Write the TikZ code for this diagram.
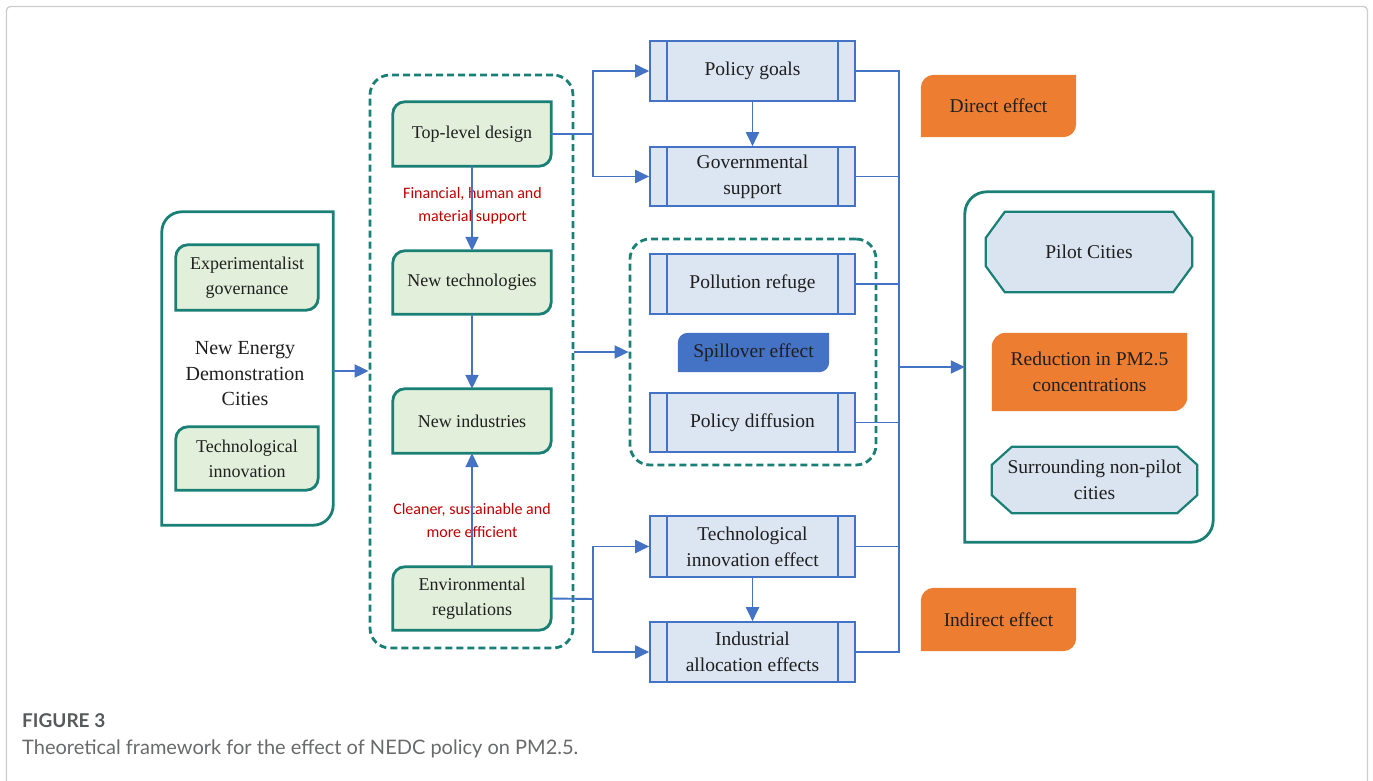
\documentclass[tikz,border=0pt]{standalone}
\usepackage{fontspec}
\setmainfont{Liberation Serif}
\newfontfamily\redfont{Carlito}
\newfontfamily\capfont{Lato}
\usetikzlibrary{arrows.meta,backgrounds}

\definecolor{teal1}{RGB}{26,128,118}
\definecolor{greenfill}{RGB}{226,239,218}
\definecolor{blueline}{RGB}{68,114,196}
\definecolor{bluefill}{RGB}{220,230,242}
\definecolor{octfill}{RGB}{218,228,240}
\definecolor{orange1}{RGB}{237,125,49}
\definecolor{redtext}{RGB}{192,0,0}
\definecolor{capgray}{RGB}{88,89,91}
\definecolor{framegray}{RGB}{205,205,205}

\tikzset{
  base/.style={inner sep=0pt, align=center, font=\fontsize{19.5}{26}\selectfont, text=black!88},
  greenbox/.style={base, font=\fontsize{18}{25}\selectfont, minimum width=158pt},
  procbox/.style={base, draw=blueline, fill=bluefill, line width=1.6pt, minimum width=205pt},
  conn/.style={draw=blueline, line width=1.9pt},
  arr/.style={conn, -{Triangle[length=14pt,width=13pt]}},
  dashbox/.style={draw=teal1, line width=2.8pt, dash pattern=on 7pt off 4pt, rounded corners=20pt, inner sep=0pt},
  redlabel/.style={font=\redfont\fontsize{16}{23}\selectfont, text=redtext, align=center},
  tealshape/.style={draw=teal1, line width=2.8pt},
}

% diagonal rounded shape (top-left and bottom-right corners rounded)
\newcommand\diagshape[3]{%
  \begin{scope}[on background layer]
  \path[#3] (#1.south west) -- ([yshift=-#2]#1.north west)
     arc[start angle=180,end angle=90,radius=#2] -- (#1.north east)
     -- ([yshift=#2]#1.south east)
     arc[start angle=0,end angle=-90,radius=#2] -- cycle;
  \end{scope}}
% process box inner lines
\newcommand\proclines[1]{%
  \draw[draw=blueline,line width=1.6pt] ([xshift=18pt]#1.north west) -- ([xshift=18pt]#1.south west)
    ([xshift=-18pt]#1.north east) -- ([xshift=-18pt]#1.south east);}
% octagon
\newcommand\octo[4]{%
  \begin{scope}[on background layer]
  \path[#4] ([xshift=#2]#1.north west) -- ([xshift=-#2]#1.north east) -- ([yshift=-#3]#1.north east)
   -- ([yshift=#3]#1.south east) -- ([xshift=-#2]#1.south east) -- ([xshift=#2]#1.south west)
   -- ([yshift=#3]#1.south west) -- ([yshift=-#3]#1.north west) -- cycle;
  \end{scope}}

\begin{document}
\begin{tikzpicture}[x=1pt,y=1pt]
\clip (0,0) rectangle (1373,-781);
\draw[framegray, line width=1.3pt, rounded corners=4pt] (6.5,-6.5) rectangle (1367.5,-800);

% ---------- left box ----------
\node[base, minimum width=171pt, minimum height=313pt] (L) at (247.5,-368.5) {};
\diagshape{L}{20pt}{tealshape}
\node[greenbox, minimum width=142pt, minimum height=65pt] (eg) at (247,-277.5) {Experimentalist\\governance};
\diagshape{eg}{12pt}{tealshape, fill=greenfill}
\node[greenbox, minimum width=142pt, minimum height=63pt] (ti) at (247,-458.5) {Technological\\innovation};
\diagshape{ti}{12pt}{tealshape, fill=greenfill}
\node[base, font=\fontsize{20}{25.5}\selectfont] (nedc) at (245,-374) {New Energy\\Demonstration\\Cities};

% ---------- dashed box 1 ----------
\node[dashbox, minimum width=203pt, minimum height=573pt] (D1) at (471.5,-361.5) {};
\node[greenbox, minimum height=64pt] (tld) at (472,-134) {Top-level design};
\diagshape{tld}{12pt}{tealshape, fill=greenfill}
\node[greenbox, minimum height=63pt] (nt) at (472,-282.5) {New technologies};
\diagshape{nt}{12pt}{tealshape, fill=greenfill}
\node[greenbox, minimum height=64pt] (ni) at (472,-421) {New industries};
\diagshape{ni}{12pt}{tealshape, fill=greenfill}
\node[greenbox, minimum height=63pt] (er) at (472,-598.5) {Environmental\\regulations};
\diagshape{er}{12pt}{tealshape, fill=greenfill}

\node[redlabel] (lab1) at (472.5,-205.5) {Financial, human and\\material support};
\node[redlabel] (lab2) at (472,-520) {Cleaner, sustainable and\\more efficient};

\draw[arr] (tld) -- (nt);
\draw[arr] (nt) -- (ni);
\draw[arr] (er) -- (ni);

% ---------- process boxes ----------
\node[procbox, minimum height=60pt] (pg) at (752.5,-71) {Policy goals};
\proclines{pg}
\node[procbox, minimum height=59pt] (gs) at (752.5,-176.5) {Governmental\\support};
\proclines{gs}
\node[procbox, minimum height=61pt] (tie) at (752.5,-546.5) {Technological\\innovation effect};
\proclines{tie}
\node[procbox, minimum height=60pt] (iae) at (752.5,-652) {Industrial\\allocation effects};
\proclines{iae}

% ---------- dashed box 2 ----------
\node[dashbox, minimum width=246pt, minimum height=226pt] (D2) at (753,-352) {};
\node[procbox, minimum height=60pt] (pr) at (752.5,-284) {Pollution refuge};
\proclines{pr}
\node[procbox, minimum height=59pt] (pd) at (752.5,-422.5) {Policy diffusion};
\proclines{pd}
\node[base, minimum width=151pt, minimum height=39pt] (se) at (753.5,-352.5) {Spillover effect};
\diagshape{se}{10pt}{fill=blueline}

% ---------- orange labels ----------
\node[base, minimum width=155pt, minimum height=62pt] (de) at (998.5,-106) {Direct effect};
\diagshape{de}{13pt}{fill=orange1}
\node[base, minimum width=155pt, minimum height=63pt] (ie) at (998.5,-619.5) {Indirect effect};
\diagshape{ie}{13pt}{fill=orange1}

% ---------- right box ----------
\node[base, minimum width=248pt, minimum height=350pt] (R) at (1089,-367) {};
\diagshape{R}{22pt}{tealshape}
\node[base, minimum width=206pt, minimum height=80pt] (pc) at (1089,-252) {Pilot Cities};
\octo{pc}{19pt}{26pt}{draw=teal1, line width=2.2pt, fill=octfill}
\node[base, minimum width=195pt, minimum height=78pt] (rd) at (1089.5,-372) {Reduction in PM2.5\\concentrations};
\diagshape{rd}{14pt}{fill=orange1}
\node[base, minimum width=205pt, minimum height=66pt] (sn) at (1094.5,-480) {Surrounding non-pilot\\cities};
\octo{sn}{20pt}{18pt}{draw=teal1, line width=2.2pt, fill=octfill}

% ---------- connectors ----------
\coordinate (bx1) at (593,-134);
\coordinate (bx2) at (593,-599);
\coordinate (cx) at (899,-367);

\draw[arr] (L.east |- 0,-371) -- (D1.west |- 0,-371);

\draw[conn] (tld.east) -- (bx1);
\draw[arr] (bx1) |- (pg.west);
\draw[arr] (bx1) |- (gs.west);
\draw[arr] (pg) -- (gs);

\draw[conn] (er.east) -- (bx2);
\draw[arr] (bx2) |- (tie.west);
\draw[arr] (bx2) |- (iae.west);
\draw[arr] (tie) -- (iae);

\draw[arr] (D1.east |- D2.west) -- (D2.west);

\draw[conn] (pg.east) -- (pg.east -| cx) -- (iae.east -| cx) -- (iae.east);
\draw[conn] (gs.east) -- (gs.east -| cx);
\draw[conn] (pr.east) -- (pr.east -| cx);
\draw[conn] (pd.east) -- (pd.east -| cx);
\draw[conn] (tie.east) -- (tie.east -| cx);
\draw[arr] (cx) -- (cx -| R.west);

% ---------- caption ----------
\node[anchor=base west, inner sep=0pt, font=\capfont\bfseries\fontsize{19}{20}\selectfont, text=capgray] (fig) at (22,-727) {FIGURE 3};
\node[anchor=base west, inner sep=0pt, font=\capfont\fontsize{20}{22}\selectfont, text=capgray!90] (cap) at (22,-754) {Theoretical framework for the effect of NEDC policy on PM2.5.};
\end{tikzpicture}
\end{document}
